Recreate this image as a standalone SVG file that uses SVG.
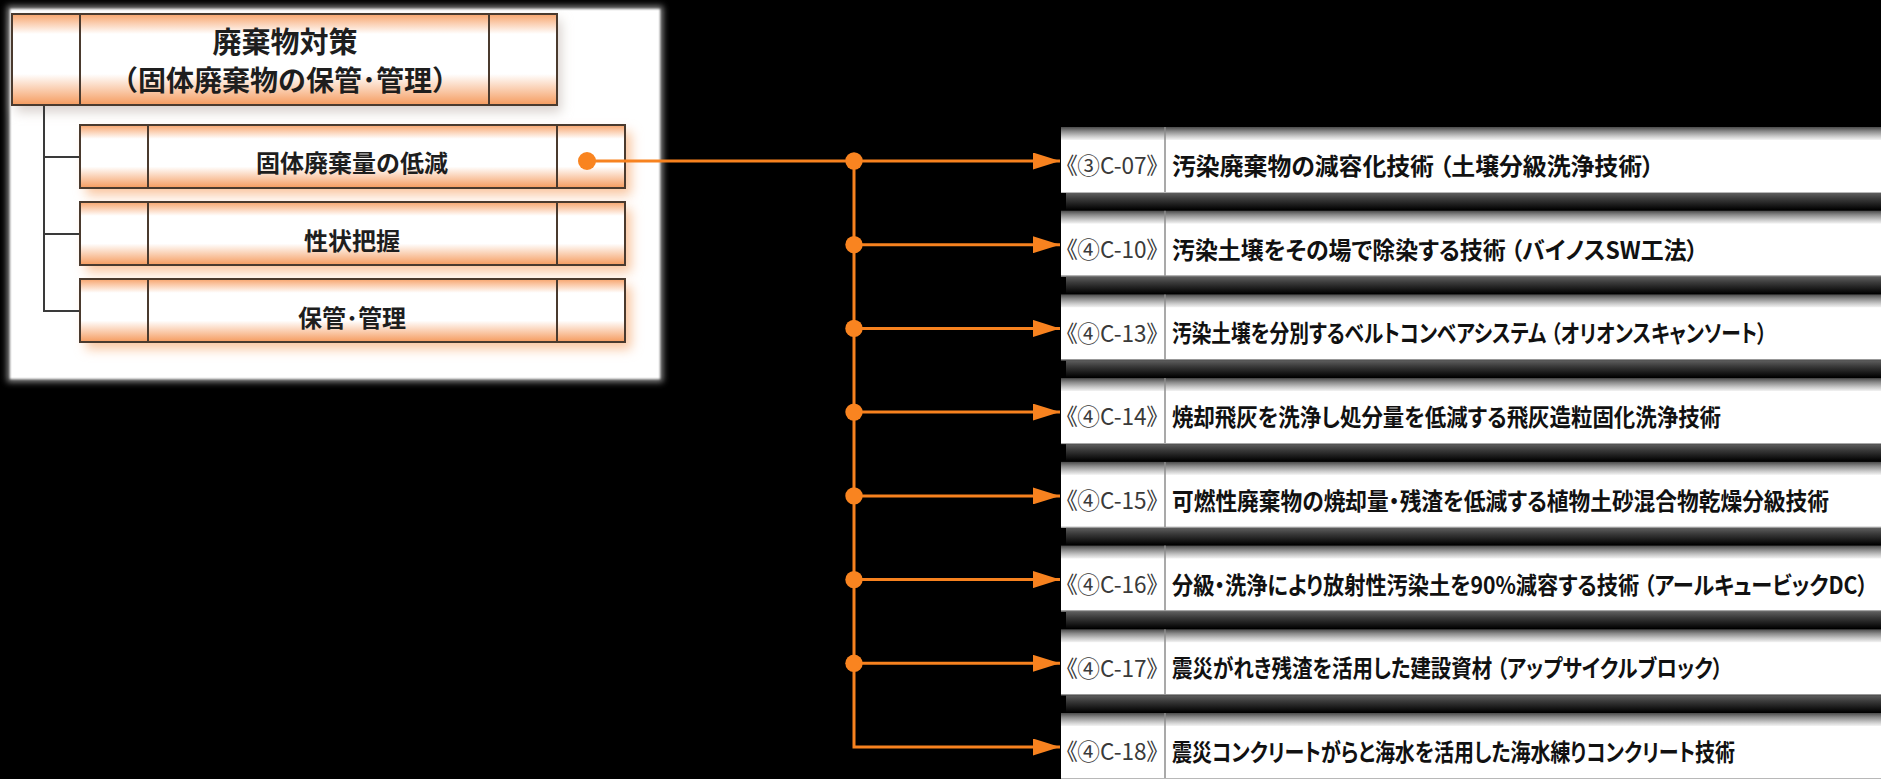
<svg xmlns="http://www.w3.org/2000/svg" width="1881" height="779" viewBox="0 0 1881 779">
<defs>
<style>
.bx{stroke:#4a3a2e;stroke-width:2;fill:url(#og)}
.dv{stroke:#4a3a2e;stroke-width:2}
.tree{stroke:#3a3a3a;stroke-width:2;fill:none}
.lt{font-family:"Noto Sans CJK JP","Noto Sans",sans-serif;font-weight:bold;fill:#1e1e1e;text-anchor:middle}
.con{stroke:#F7821F;stroke-width:3;fill:none}
.dot{fill:#F98420}
.hdr{fill:url(#hg)}
.bod{fill:#fff}
.shd{fill:url(#sg)}
.rdv{stroke:#8c8c8c;stroke-width:1.5}
.bl{stroke:#b8b8b8;stroke-width:1}
.lab{font-family:"Noto Sans CJK JP","Noto Sans",sans-serif;font-size:23px;fill:#3a3a3a;font-feature-settings:"palt"}
.mt{font-family:"Noto Sans CJK JP","Noto Sans",sans-serif;font-size:21px;font-weight:bold;fill:#111;font-feature-settings:"palt";white-space:pre}
</style>
<linearGradient id="og" x1="0" y1="0" x2="0" y2="1">
<stop offset="0" stop-color="#f7a46c"/>
<stop offset="0.22" stop-color="#ffffff"/>
<stop offset="0.66" stop-color="#ffffff"/>
<stop offset="1" stop-color="#f59b5e"/>
</linearGradient>
<linearGradient id="hg" x1="0" y1="0" x2="0" y2="1">
<stop offset="0" stop-color="#4a4a4a"/>
<stop offset="0.3" stop-color="#8a8a8a"/>
<stop offset="0.65" stop-color="#c8c8c8"/>
<stop offset="1" stop-color="#ffffff"/>
</linearGradient>
<linearGradient id="sg" x1="0" y1="0" x2="0" y2="1">
<stop offset="0" stop-color="#5e5e5e"/>
<stop offset="0.35" stop-color="#3a3a3a"/>
<stop offset="1" stop-color="#000000"/>
</linearGradient>
<filter id="b3" x="-10%" y="-10%" width="120%" height="120%"><feGaussianBlur stdDeviation="3"/></filter>
<filter id="b1" x="-10%" y="-10%" width="120%" height="120%"><feGaussianBlur stdDeviation="1"/></filter>
<filter id="b6" x="-20%" y="-40%" width="140%" height="180%"><feGaussianBlur stdDeviation="6"/></filter>
<marker id="ah" markerUnits="userSpaceOnUse" markerWidth="27" markerHeight="17" refX="27" refY="8.5" orient="auto">
<path d="M0,0 L27,8.5 L0,17 Z" fill="#F7821F"/>
</marker>
</defs>
<rect width="1881" height="779" fill="#000"/>

<g id="panel">
<rect x="7" y="6" width="656" height="376" fill="#8a8a8a" filter="url(#b3)"/>
<rect x="10" y="9" width="650" height="370" fill="#fff" filter="url(#b1)"/>
</g>

<g id="shadows">
<rect x="16" y="20" width="545" height="92" fill="#d8d0cc" filter="url(#b6)"/>
<rect x="86" y="132" width="545" height="63" fill="#f9c59e" filter="url(#b6)"/>
<rect x="86" y="209" width="545" height="63" fill="#f9c59e" filter="url(#b6)"/>
<rect x="86" y="286" width="545" height="63" fill="#f9c59e" filter="url(#b6)"/>
</g>

<g id="tree" class="tree">
<path d="M44,105 V311 H80"/>
<path d="M44,157 H80"/>
<path d="M44,234 H80"/>
</g>

<g id="node-top">
<rect class="bx" x="12" y="14" width="545" height="91"/>
<line class="dv" x1="80" y1="14" x2="80" y2="105"/>
<line class="dv" x1="489" y1="14" x2="489" y2="105"/>
<text class="lt" x="285" y="52.6" font-size="29">廃棄物対策</text>
<text class="lt" x="285" y="90.6" font-size="28">（固体廃棄物の保管･管理）</text>
</g>

<g id="node-reduce">
<rect class="bx" x="80" y="125" width="545" height="63"/>
<line class="dv" x1="148" y1="125" x2="148" y2="188"/>
<line class="dv" x1="557" y1="125" x2="557" y2="188"/>
<text class="lt" x="352" y="172" font-size="24">固体廃棄量の低減</text>
</g>

<g id="node-character">
<rect class="bx" x="80" y="202" width="545" height="63"/>
<line class="dv" x1="148" y1="202" x2="148" y2="265"/>
<line class="dv" x1="557" y1="202" x2="557" y2="265"/>
<text class="lt" x="352" y="249.5" font-size="24">性状把握</text>
</g>

<g id="node-storage">
<rect class="bx" x="80" y="279" width="545" height="63"/>
<line class="dv" x1="148" y1="279" x2="148" y2="342"/>
<line class="dv" x1="557" y1="279" x2="557" y2="342"/>
<text class="lt" x="352" y="327" font-size="24">保管･管理</text>
</g>

<g id="tech-1" transform="translate(0,127)">
<rect class="hdr" x="1061" y="0" width="820" height="14"/>
<rect class="bod" x="1061" y="13" width="820" height="52"/>
<line class="bl" x1="1061" y1="65.5" x2="1881" y2="65.5"/>
<rect class="shd" x="1066" y="66" width="815" height="17"/>
<line class="rdv" x1="1165" y1="0" x2="1165" y2="65"/>
<text class="lab" x="1066" y="47.4" textLength="92" lengthAdjust="spacingAndGlyphs">《③C-07》</text>
<text class="mt" transform="translate(1172,48) scale(1,1.143)" x="0" y="0" textLength="482" lengthAdjust="spacingAndGlyphs">汚染廃棄物の減容化技術 （土壌分級洗浄技術）</text>
</g>

<g id="tech-2" transform="translate(0,210.7)">
<rect class="hdr" x="1061" y="0" width="820" height="14"/>
<rect class="bod" x="1061" y="13" width="820" height="52"/>
<line class="bl" x1="1061" y1="65.5" x2="1881" y2="65.5"/>
<rect class="shd" x="1066" y="66" width="815" height="17"/>
<line class="rdv" x1="1165" y1="0" x2="1165" y2="65"/>
<text class="lab" x="1066" y="47.4" textLength="92" lengthAdjust="spacingAndGlyphs">《④C-10》</text>
<text class="mt" transform="translate(1172,48) scale(1,1.143)" x="0" y="0" textLength="526" lengthAdjust="spacingAndGlyphs">汚染土壌をその場で除染する技術 （バイノスSW工法）</text>
</g>

<g id="tech-3" transform="translate(0,294.4)">
<rect class="hdr" x="1061" y="0" width="820" height="14"/>
<rect class="bod" x="1061" y="13" width="820" height="52"/>
<line class="bl" x1="1061" y1="65.5" x2="1881" y2="65.5"/>
<rect class="shd" x="1066" y="66" width="815" height="17"/>
<line class="rdv" x1="1165" y1="0" x2="1165" y2="65"/>
<text class="lab" x="1066" y="47.4" textLength="92" lengthAdjust="spacingAndGlyphs">《④C-13》</text>
<text class="mt" transform="translate(1172,48) scale(1,1.143)" x="0" y="0" textLength="595" lengthAdjust="spacingAndGlyphs">汚染土壌を分別するベルトコンベアシステム （オリオンスキャンソート）</text>
</g>

<g id="tech-4" transform="translate(0,378.1)">
<rect class="hdr" x="1061" y="0" width="820" height="14"/>
<rect class="bod" x="1061" y="13" width="820" height="52"/>
<line class="bl" x1="1061" y1="65.5" x2="1881" y2="65.5"/>
<rect class="shd" x="1066" y="66" width="815" height="17"/>
<line class="rdv" x1="1165" y1="0" x2="1165" y2="65"/>
<text class="lab" x="1066" y="47.4" textLength="92" lengthAdjust="spacingAndGlyphs">《④C-14》</text>
<text class="mt" transform="translate(1172,48) scale(1,1.143)" x="0" y="0" textLength="549" lengthAdjust="spacingAndGlyphs">焼却飛灰を洗浄し処分量を低減する飛灰造粒固化洗浄技術</text>
</g>

<g id="tech-5" transform="translate(0,461.9)">
<rect class="hdr" x="1061" y="0" width="820" height="14"/>
<rect class="bod" x="1061" y="13" width="820" height="52"/>
<line class="bl" x1="1061" y1="65.5" x2="1881" y2="65.5"/>
<rect class="shd" x="1066" y="66" width="815" height="17"/>
<line class="rdv" x1="1165" y1="0" x2="1165" y2="65"/>
<text class="lab" x="1066" y="47.4" textLength="92" lengthAdjust="spacingAndGlyphs">《④C-15》</text>
<text class="mt" transform="translate(1172,48) scale(1,1.143)" x="0" y="0" textLength="657" lengthAdjust="spacingAndGlyphs">可燃性廃棄物の焼却量・残渣を低減する植物土砂混合物乾燥分級技術</text>
</g>

<g id="tech-6" transform="translate(0,545.6)">
<rect class="hdr" x="1061" y="0" width="820" height="14"/>
<rect class="bod" x="1061" y="13" width="820" height="52"/>
<line class="bl" x1="1061" y1="65.5" x2="1881" y2="65.5"/>
<rect class="shd" x="1066" y="66" width="815" height="17"/>
<line class="rdv" x1="1165" y1="0" x2="1165" y2="65"/>
<text class="lab" x="1066" y="47.4" textLength="92" lengthAdjust="spacingAndGlyphs">《④C-16》</text>
<text class="mt" transform="translate(1172,48) scale(1,1.143)" x="0" y="0" textLength="696" lengthAdjust="spacingAndGlyphs">分級・洗浄により放射性汚染土を90%減容する技術 （アールキュービックDC）</text>
</g>

<g id="tech-7" transform="translate(0,629.3)">
<rect class="hdr" x="1061" y="0" width="820" height="14"/>
<rect class="bod" x="1061" y="13" width="820" height="52"/>
<line class="bl" x1="1061" y1="65.5" x2="1881" y2="65.5"/>
<rect class="shd" x="1066" y="66" width="815" height="17"/>
<line class="rdv" x1="1165" y1="0" x2="1165" y2="65"/>
<text class="lab" x="1066" y="47.4" textLength="92" lengthAdjust="spacingAndGlyphs">《④C-17》</text>
<text class="mt" transform="translate(1172,48) scale(1,1.143)" x="0" y="0" textLength="551" lengthAdjust="spacingAndGlyphs">震災がれき残渣を活用した建設資材 （アップサイクルブロック）</text>
</g>

<g id="tech-8" transform="translate(0,713)">
<rect class="hdr" x="1061" y="0" width="820" height="14"/>
<rect class="bod" x="1061" y="13" width="820" height="52"/>
<line class="bl" x1="1061" y1="65.5" x2="1881" y2="65.5"/>
<rect class="shd" x="1066" y="66" width="815" height="17"/>
<line class="rdv" x1="1165" y1="0" x2="1165" y2="65"/>
<text class="lab" x="1066" y="47.4" textLength="92" lengthAdjust="spacingAndGlyphs">《④C-18》</text>
<text class="mt" transform="translate(1172,48) scale(1,1.143)" x="0" y="0" textLength="563" lengthAdjust="spacingAndGlyphs">震災コンクリートがらと海水を活用した海水練りコンクリート技術</text>
</g>

<g id="connectors">
<path class="con" d="M587,161 H1060" marker-end="url(#ah)"/>
<path class="con" d="M854,161 V747 H1060" marker-end="url(#ah)"/>
<path class="con" d="M854,244.7 H1060" marker-end="url(#ah)"/>
<path class="con" d="M854,328.4 H1060" marker-end="url(#ah)"/>
<path class="con" d="M854,412.1 H1060" marker-end="url(#ah)"/>
<path class="con" d="M854,495.9 H1060" marker-end="url(#ah)"/>
<path class="con" d="M854,579.6 H1060" marker-end="url(#ah)"/>
<path class="con" d="M854,663.3 H1060" marker-end="url(#ah)"/>
<circle class="dot" cx="587" cy="161" r="9"/>
<circle class="dot" cx="854" cy="161" r="8.7"/>
<circle class="dot" cx="854" cy="244.7" r="8.7"/>
<circle class="dot" cx="854" cy="328.4" r="8.7"/>
<circle class="dot" cx="854" cy="412.1" r="8.7"/>
<circle class="dot" cx="854" cy="495.9" r="8.7"/>
<circle class="dot" cx="854" cy="579.6" r="8.7"/>
<circle class="dot" cx="854" cy="663.3" r="8.7"/>
</g>
</svg>
